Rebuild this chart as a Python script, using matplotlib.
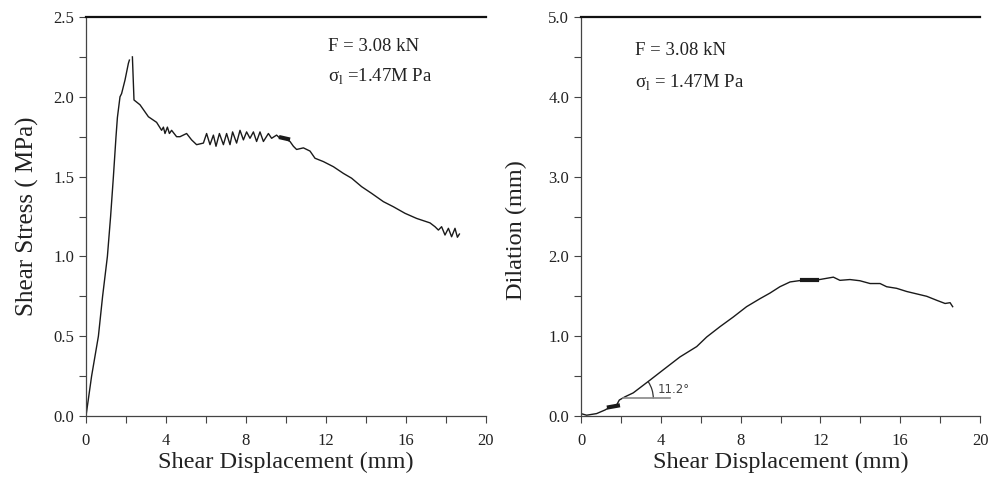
import numpy as np
import matplotlib
matplotlib.use("Agg")
import matplotlib.pyplot as plt
import matplotlib.transforms as mtransforms
from matplotlib.patches import Arc
from matplotlib.ticker import MultipleLocator, FormatStrFormatter

plt.rcParams['font.family'] = ['Liberation Serif', 'DejaVu Serif']
plt.rcParams['mathtext.fontset'] = 'custom'
plt.rcParams['mathtext.rm'] = 'Liberation Serif'

nan = np.nan
# Left panel: shear stress vs shear displacement
disp_stress = [0, 0.28, 0.62, 0.83, 1.07, 1.23, 1.37, 1.5, 1.57, 1.62, 1.7, 1.78, 1.95, 2.12, 2.17, nan,
               2.32, 2.4, 2.7, 3.12, 3.53, 3.78, 3.87, 3.95, 4.07, 4.17, 4.28, 4.53, 4.7, 5.03, 5.28, 5.53,
               5.87, 6.03, 6.2, 6.37, 6.5, 6.67, 6.87, 7.03, 7.2, 7.33, 7.53, 7.7, 7.87, 8.03, 8.2, 8.37,
               8.53, 8.7, 8.87, 9.12, 9.28, 9.53, 9.7, 9.95, 10.2, 10.37, 10.53, 10.87, 11.2, 11.45, 11.87,
               12.37, 12.87, 13.28, 13.78, 14.28, 14.87, 15.37, 15.95, 16.53, 17.2, 17.45, 17.62, 17.78,
               17.95, 18.12, 18.28, 18.45, 18.57, 18.67]
shear_stress = [0, 0.25, 0.5, 0.75, 1.0, 1.25, 1.5, 1.75, 1.87, 1.92, 2.0, 2.02, 2.105, 2.21, 2.23, nan,
                2.25, 1.98, 1.95, 1.875, 1.84, 1.79, 1.81, 1.77, 1.81, 1.77, 1.79, 1.75, 1.75, 1.77, 1.73, 1.70,
                1.71, 1.77, 1.70, 1.76, 1.69, 1.77, 1.70, 1.77, 1.70, 1.78, 1.71, 1.79, 1.73, 1.78, 1.74, 1.78,
                1.72, 1.78, 1.72, 1.77, 1.74, 1.76, 1.74, 1.74, 1.72, 1.69, 1.67, 1.68, 1.66, 1.615, 1.594,
                1.562, 1.52, 1.49, 1.437, 1.395, 1.343, 1.311, 1.27, 1.238, 1.21, 1.186, 1.165, 1.186,
                1.134, 1.176, 1.123, 1.176, 1.12, 1.14]
thick_stress_x = [9.75, 10.1]
thick_stress_y = [1.745, 1.735]

# Right panel: dilation vs shear displacement
disp_dil = [0, 0.28, 0.78, 1.2, 1.45, 1.79, 1.92, 2.2, 2.62, 3.04, 3.46, 4.13, 4.96, 5.8, 6.3, 6.97,
            7.63, 8.3, 8.97, 9.47, 9.97, 10.48, 11.06, 11.73, 12.65, 12.98, 13.48, 13.98, 14.49, 14.99,
            15.32, 15.82, 16.33, 16.83, 17.33, 17.83, 18.25, 18.5, 18.63]
dilation = [0.03, 0.01, 0.03, 0.075, 0.11, 0.14, 0.2, 0.24, 0.29, 0.37, 0.45, 0.58, 0.74, 0.87, 0.99, 1.12,
            1.24, 1.37, 1.47, 1.54, 1.62, 1.68, 1.70, 1.70, 1.74, 1.70, 1.71, 1.695, 1.66, 1.66,
            1.62, 1.60, 1.56, 1.53, 1.50, 1.45, 1.41, 1.42, 1.37]
thick_dil_x1 = [1.4, 1.85]
thick_dil_y1 = [0.11, 0.13]
thick_dil_x2 = [11.1, 11.85]
thick_dil_y2 = [1.70, 1.70]

angle_label = "11.2°"
angle_base_x = [2.12, 4.46]
angle_base_y = [0.22, 0.22]

ann1 = "F = 3.08 kN"
ann2 = "σ$_{\\mathrm{l}}$ =1.47M Pa"
ann2b = "σ$_{\\mathrm{l}}$ = 1.47M Pa"

fig = plt.figure(figsize=(9.89, 4.78), dpi=100)
ax1 = fig.add_axes([86/989, 1-416/478, 400/989, 399/478])
ax2 = fig.add_axes([581/989, 1-416/478, 399/989, 399/478])

line_col = '#1a1a1a'
txt_col = '#222222'
for ax in (ax1, ax2):
    ax.set_xlim(0, 20)
    ax.xaxis.set_major_locator(MultipleLocator(4))
    ax.xaxis.set_minor_locator(MultipleLocator(2))
    ax.spines['right'].set_visible(False)
    ax.spines['top'].set_linewidth(1.6)
    ax.spines['top'].set_color('#111111')
    for s in ('left', 'bottom'):
        ax.spines[s].set_linewidth(0.9)
        ax.spines[s].set_color('#444444')
    ax.tick_params(which='both', direction='out', length=5, width=0.8, color='#444444',
                   labelsize=12, top=False, right=False, labelcolor=txt_col)
    ax.tick_params(axis='x', pad=7)
    ax.set_xlabel("Shear Displacement (mm)", fontsize=17.5, labelpad=2, color=txt_col)

ax1.set_ylim(0, 2.5)
ax1.yaxis.set_major_locator(MultipleLocator(0.5))
ax1.yaxis.set_minor_locator(MultipleLocator(0.25))
ax1.yaxis.set_major_formatter(FormatStrFormatter('%.1f'))
ax1.set_ylabel("Shear Stress ( MPa)", fontsize=18, labelpad=10, color=txt_col)
ax1.plot(disp_stress, shear_stress, color=line_col, lw=1.0)
ax1.plot(thick_stress_x, thick_stress_y, color=line_col, lw=3)
ax1.text(0.605, 0.925, ann1, transform=ax1.transAxes, fontsize=13.5, va='center', color=txt_col)
ax1.text(0.605, 0.85, ann2, transform=ax1.transAxes, fontsize=13.5, va='center', color=txt_col)

ax2.set_ylim(0, 5.0)
ax2.yaxis.set_major_locator(MultipleLocator(1.0))
ax2.yaxis.set_minor_locator(MultipleLocator(0.5))
ax2.yaxis.set_major_formatter(FormatStrFormatter('%.1f'))
ax2.set_ylabel("Dilation (mm)", fontsize=17.5, color=txt_col)
ax2.yaxis.set_label_coords(-0.135, 0.465)
ax2.plot(disp_dil, dilation, color=line_col, lw=1.0)
ax2.plot(thick_dil_x1, thick_dil_y1, color=line_col, lw=3)
ax2.plot(thick_dil_x2, thick_dil_y2, color=line_col, lw=3)
ax2.text(0.135, 0.915, ann1, transform=ax2.transAxes, fontsize=13.5, va='center', color=txt_col)
ax2.text(0.135, 0.835, ann2b, transform=ax2.transAxes, fontsize=13.5, va='center', color=txt_col)

# angle annotation
ax2.plot(angle_base_x, angle_base_y, color='#888888', lw=1.2)
trans = fig.dpi_scale_trans + mtransforms.ScaledTranslation(angle_base_x[0], angle_base_y[0], ax2.transData)
arc = Arc((0, 0), 0.6, 0.6, theta1=0, theta2=34, transform=trans, color='#333333', lw=0.9)
ax2.add_patch(arc)
ax2.text(3.85, 0.33, angle_label, fontsize=8.5, family=['DejaVu Sans'], color='#444444', va='center')

fig.savefig("out.png", dpi=100)
